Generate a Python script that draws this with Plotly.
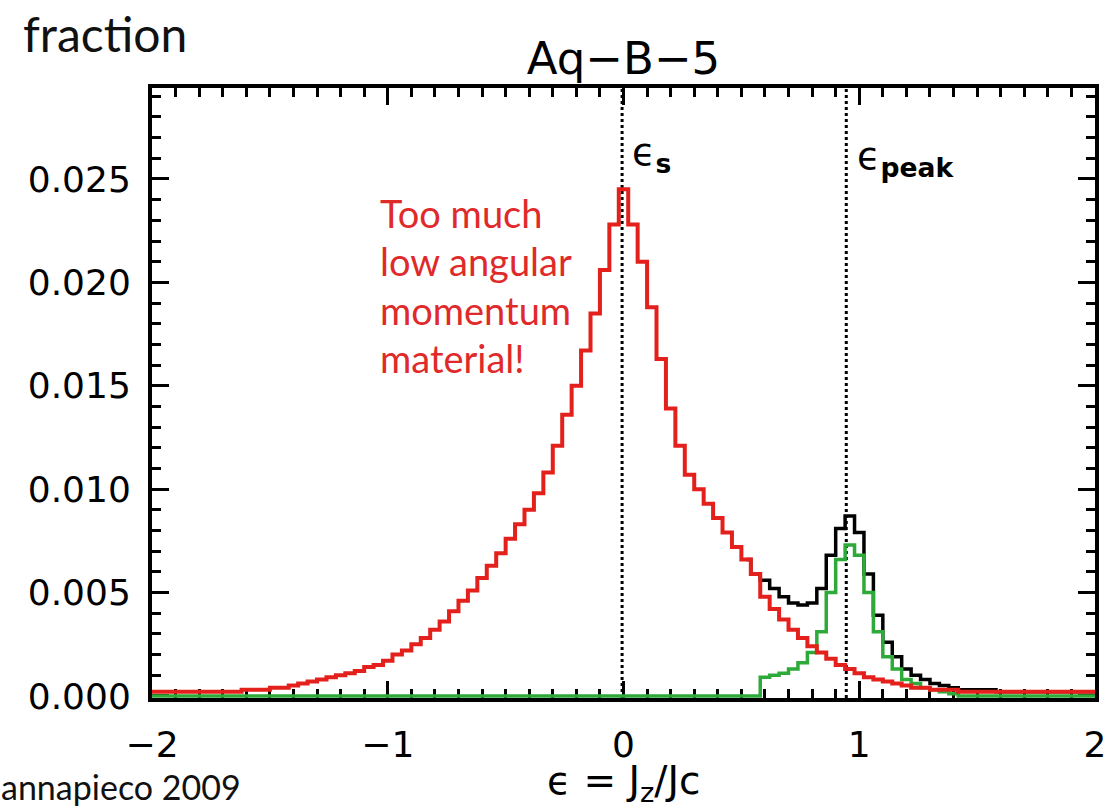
import plotly.graph_objects as go

# ---- data (histogram bin centres, width 0.04) ----
eps_bins = [round(-2.0 + 0.04 * k, 2) for k in range(101)]

frac_spheroid = [
    0.0002, 0.0002, 0.0002, 0.0002, 0.0002, 0.0002, 0.0002, 0.0002, 0.0002, 0.0002,
    0.0003, 0.0003, 0.0003, 0.0004, 0.0004, 0.0005, 0.0006, 0.0007, 0.0008, 0.0009,
    0.0010, 0.0011, 0.0012, 0.0014, 0.0015, 0.0017, 0.0020, 0.0022, 0.0025, 0.0028,
    0.0032, 0.0036, 0.0041, 0.0046, 0.0051, 0.0057, 0.0063, 0.0069, 0.0076, 0.0083,
    0.0090, 0.0098, 0.0108, 0.0121, 0.0136, 0.0150, 0.0167, 0.0185, 0.0206, 0.0228,
    0.0245,
    0.0228, 0.0210, 0.0188, 0.0163, 0.0139, 0.0121, 0.0107, 0.0100, 0.0093, 0.0086,
    0.0079, 0.0072, 0.0066, 0.0059, 0.0048, 0.0042, 0.0037, 0.0032, 0.0028, 0.0024,
    0.0021, 0.0018, 0.0015, 0.0013, 0.0011, 0.0009, 0.0008, 0.0007, 0.0006, 0.0005,
    0.0004, 0.0004, 0.0003, 0.0003, 0.0003, 0.0002, 0.0002, 0.0002, 0.0002, 0.0002,
    0.0002, 0.0002, 0.0002, 0.0002, 0.0002, 0.0002, 0.0002, 0.0002, 0.0002, 0.0002,
]

frac_disk = [0.0] * 65 + [
    0.0009, 0.0010, 0.0011, 0.0013, 0.0016, 0.0021, 0.0031, 0.0050, 0.0066, 0.0073,
    0.0068, 0.0050, 0.0031, 0.0019, 0.0013, 0.0008, 0.0006, 0.0004, 0.0003, 0.0002,
    0.0001,
] + [0.0] * 15

# total distribution, where it departs from the spheroid curve (eps >= 0.52)
total_start = 63
frac_total = [
    0.0066, 0.0059, 0.0056, 0.0052, 0.0048, 0.0045, 0.0044, 0.0045, 0.0052, 0.0068,
    0.0081, 0.0087, 0.0079, 0.0059, 0.0039, 0.0026, 0.0019, 0.0013, 0.0010, 0.0008,
    0.0006, 0.0005, 0.0004, 0.0003, 0.0003, 0.0003, 0.0003, 0.0002, 0.0002, 0.0002,
    0.0002, 0.0002, 0.0002, 0.0002, 0.0002, 0.0002, 0.0002, 0.0002,
]

eps_s = -0.006
eps_peak = 0.945

x_ticks = [-2, -1, 0, 1, 2]
x_ticktext = ["\u22122", "\u22121", "0", "1", "2"]
y_ticks = [0.000, 0.005, 0.010, 0.015, 0.020, 0.025]

RED = "#e3201b"
GREEN = "#2eaa3a"
TEXT_RED = "#e02a2a"

fig = go.Figure()
fig.add_trace(go.Scatter(x=eps_bins[total_start:], y=frac_total, mode="lines",
                         line=dict(color="black", width=3.5, shape="hvh"),
                         showlegend=False, hoverinfo="skip"))
fig.add_trace(go.Scatter(x=eps_bins, y=frac_disk, mode="lines",
                         line=dict(color=GREEN, width=3.5, shape="hvh"),
                         showlegend=False, hoverinfo="skip"))
fig.add_trace(go.Scatter(x=eps_bins, y=frac_spheroid, mode="lines",
                         line=dict(color=RED, width=4, shape="hvh"),
                         showlegend=False, hoverinfo="skip"))

for xv in (eps_s, eps_peak):
    fig.add_shape(type="line", xref="x", yref="paper", x0=xv, x1=xv, y0=0, y1=1,
                  line=dict(color="black", width=3, dash="dot"), layer="below")

tickfont = dict(family="DejaVu Sans", size=36, color="black")
axis_common = dict(showgrid=False, zeroline=False, showline=True, linecolor="black",
                   linewidth=4, mirror="allticks", ticks="inside", ticklen=17,
                   tickwidth=3, tickcolor="black", tickfont=tickfont,
                   layer="below traces", automargin=False, ticklabeloverflow="allow")

fig.update_layout(
    width=1105, height=807, autosize=False,
    margin=dict(l=152, r=10, t=88, b=109),
    paper_bgcolor="white", plot_bgcolor="white",
    title=dict(text="Aq\u2212B\u22125", x=0.5, xref="paper", xanchor="center",
               y=1 - 58 / 807, yref="container", yanchor="middle",
               font=dict(family="DejaVu Sans", size=45, color="black")),
    xaxis=dict(range=[-2, 2], tickvals=x_ticks, ticktext=x_ticktext,
               ticklabelstandoff=12,
               minor=dict(dtick=0.1, ticks="inside", ticklen=9, tickwidth=2.5, tickcolor="black"),
               **axis_common),
    yaxis=dict(range=[-0.0001, 0.0294], tickvals=y_ticks, tickformat=".3f",
               ticklabelstandoff=10,
               minor=dict(dtick=0.001, ticks="inside", ticklen=9, tickwidth=2.5, tickcolor="black"),
               **axis_common),
)

annos = [
    dict(text="fraction", x=(21 - 152) / 943, y=(698 - 33) / 610, xanchor="left", yanchor="middle",
         font=dict(family="Lato", size=48, color="#111111")),
    dict(text="annapieco 2009", x=(-1 - 152) / 943, y=(698 - 786) / 610, xanchor="left", yanchor="middle",
         font=dict(family="Lato", size=34, color="#111111")),
    dict(text="\u03f5 = J<sub>z</sub>/Jc", x=0.5, y=(698 - 783) / 610, xanchor="center", yanchor="middle",
         font=dict(family="DejaVu Sans", size=39, color="black")),
]
for i, line in enumerate(["Too much", "low angular", "momentum", "material!"]):
    annos.append(dict(text=line, x=(378 - 152) / 943, y=(698 - (213 + 48.3 * i)) / 610,
                      xanchor="left", yanchor="middle",
                      font=dict(family="Lato", size=38, color=TEXT_RED)))
for a in annos:
    a.update(xref="paper", yref="paper", showarrow=False)
    fig.add_annotation(**a)

fig.add_annotation(text="\u03f5<sub><b>s</b></sub>", xref="x", yref="paper", x=eps_s, xshift=8,
                   y=(698 - 154) / 610, xanchor="left", yanchor="middle", showarrow=False,
                   font=dict(family="DejaVu Sans", size=38, color="black"))
fig.add_annotation(text="\u03f5<sub><b>peak</b></sub>", xref="x", yref="paper", x=eps_peak, xshift=9,
                   y=(698 - 158) / 610, xanchor="left", yanchor="middle", showarrow=False,
                   font=dict(family="DejaVu Sans", size=38, color="black"))

fig.write_html("out.html")
